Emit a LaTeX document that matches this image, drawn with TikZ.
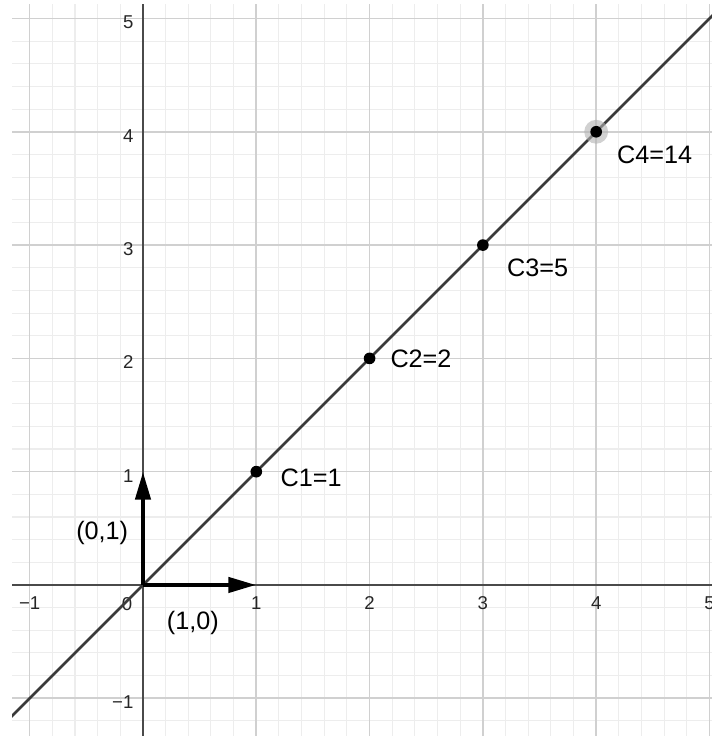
\documentclass[tikz,border=0pt]{standalone}
\usepackage{fontspec}
\setmainfont{Liberation Sans}
\usetikzlibrary{arrows.meta,positioning,calc}
\definecolor{gridmajor}{HTML}{D0D0D0}
\definecolor{gridminor}{HTML}{EDEDED}
\definecolor{axisgray}{HTML}{4A4A4A}
\definecolor{linegray}{HTML}{3A3A3A}
\tikzset{
  dot/.style={circle, fill=black, inner sep=0pt, minimum size=4.4pt},
  halo/.style={circle, fill=black!30, opacity=0.6, inner sep=0pt, minimum size=9pt},
  lbl/.style={anchor=west, inner sep=0pt, font=\fontsize{9.5}{11}\selectfont},
  veclbl/.style={inner sep=0pt, font=\fontsize{9.5}{11}\selectfont},
  ticklbl/.style={inner sep=0pt, text=black!85, font=\fontsize{7}{8}\selectfont},
  vec/.style={-{Triangle[length=10.5pt,width=5.6pt]}, line width=1.7pt},
  axisline/.style={axisgray, line width=0.6pt},
  fnline/.style={linegray, line width=1pt}
}
\begin{document}
\begin{tikzpicture}[x=1.5cm,y=1.5cm]
\useasboundingbox (-1.262,-1.333) rectangle (5.022,5.163);
\begin{scope}
\clip (-1.156,-1.333) rectangle (5.022,5.12);
% grid
\foreach \i in {-7,...,26}
  \draw[gridminor, line width=0.4pt] ({\i/5},-1.4) -- ({\i/5},5.2);
\foreach \i in {-7,...,26}
  \draw[gridminor, line width=0.4pt] (-1.4,{\i/5}) -- (5.2,{\i/5});
\foreach \k in {-1,...,5}
  \draw[gridmajor, line width=0.6pt] (\k,-1.4) -- (\k,5.2);
\foreach \k in {-1,...,5}
  \draw[gridmajor, line width=0.6pt] (-1.4,\k) -- (5.2,\k);
% axes
\draw[axisline] (-1.2,0) -- (5.1,0);
\draw[axisline] (0,-1.4) -- (0,5.2);
% tick labels
\node[ticklbl] (xm1) at (-1,-0.16) {−1};
\node[ticklbl] (x0) at (-0.14,-0.17) {0};
\foreach \k in {1,...,5}
  \node[ticklbl] (x\k) at (\k,-0.16) {\k};
\node[ticklbl, anchor=east] (ym1) at (-0.08,-1.03) {−1};
\foreach \k in {1,...,5}
  \node[ticklbl, anchor=east] (y\k) at (-0.08,{\k-0.035}) {\k};
% line y = x
\coordinate (lo) at (-1.4,-1.4);
\coordinate (hi) at (5.2,5.2);
\draw[fnline] (lo) -- (hi);
\end{scope}
% unit vectors
\coordinate (o) at (0,0);
\coordinate (e1) at (1,0);
\coordinate (e2) at (0,1);
\draw[vec] (o) -- (e1);
\draw[vec] (o) -- (e2);
\node[veclbl] (l10) at (0.44,-0.335) {(1,0)};
\node[veclbl] (l01) at (-0.36,0.46) {(0,1)};
% points
\node[halo] (h4) at (4,4) {};
\node[dot] (c1) at (1,1) {};
\node[dot] (c2) at (2,2) {};
\node[dot] (c3) at (3,3) {};
\node[dot] (c4) at (4,4) {};
\node[lbl] (t1) at (1.21,0.95) {C1=1};
\node[lbl] (t2) at (2.18,2.0) {C2=2};
\node[lbl] (t3) at (3.21,2.8) {C3=5};
\node[lbl] (t4) at (4.18,3.8) {C4=14};
\end{tikzpicture}
\end{document}
